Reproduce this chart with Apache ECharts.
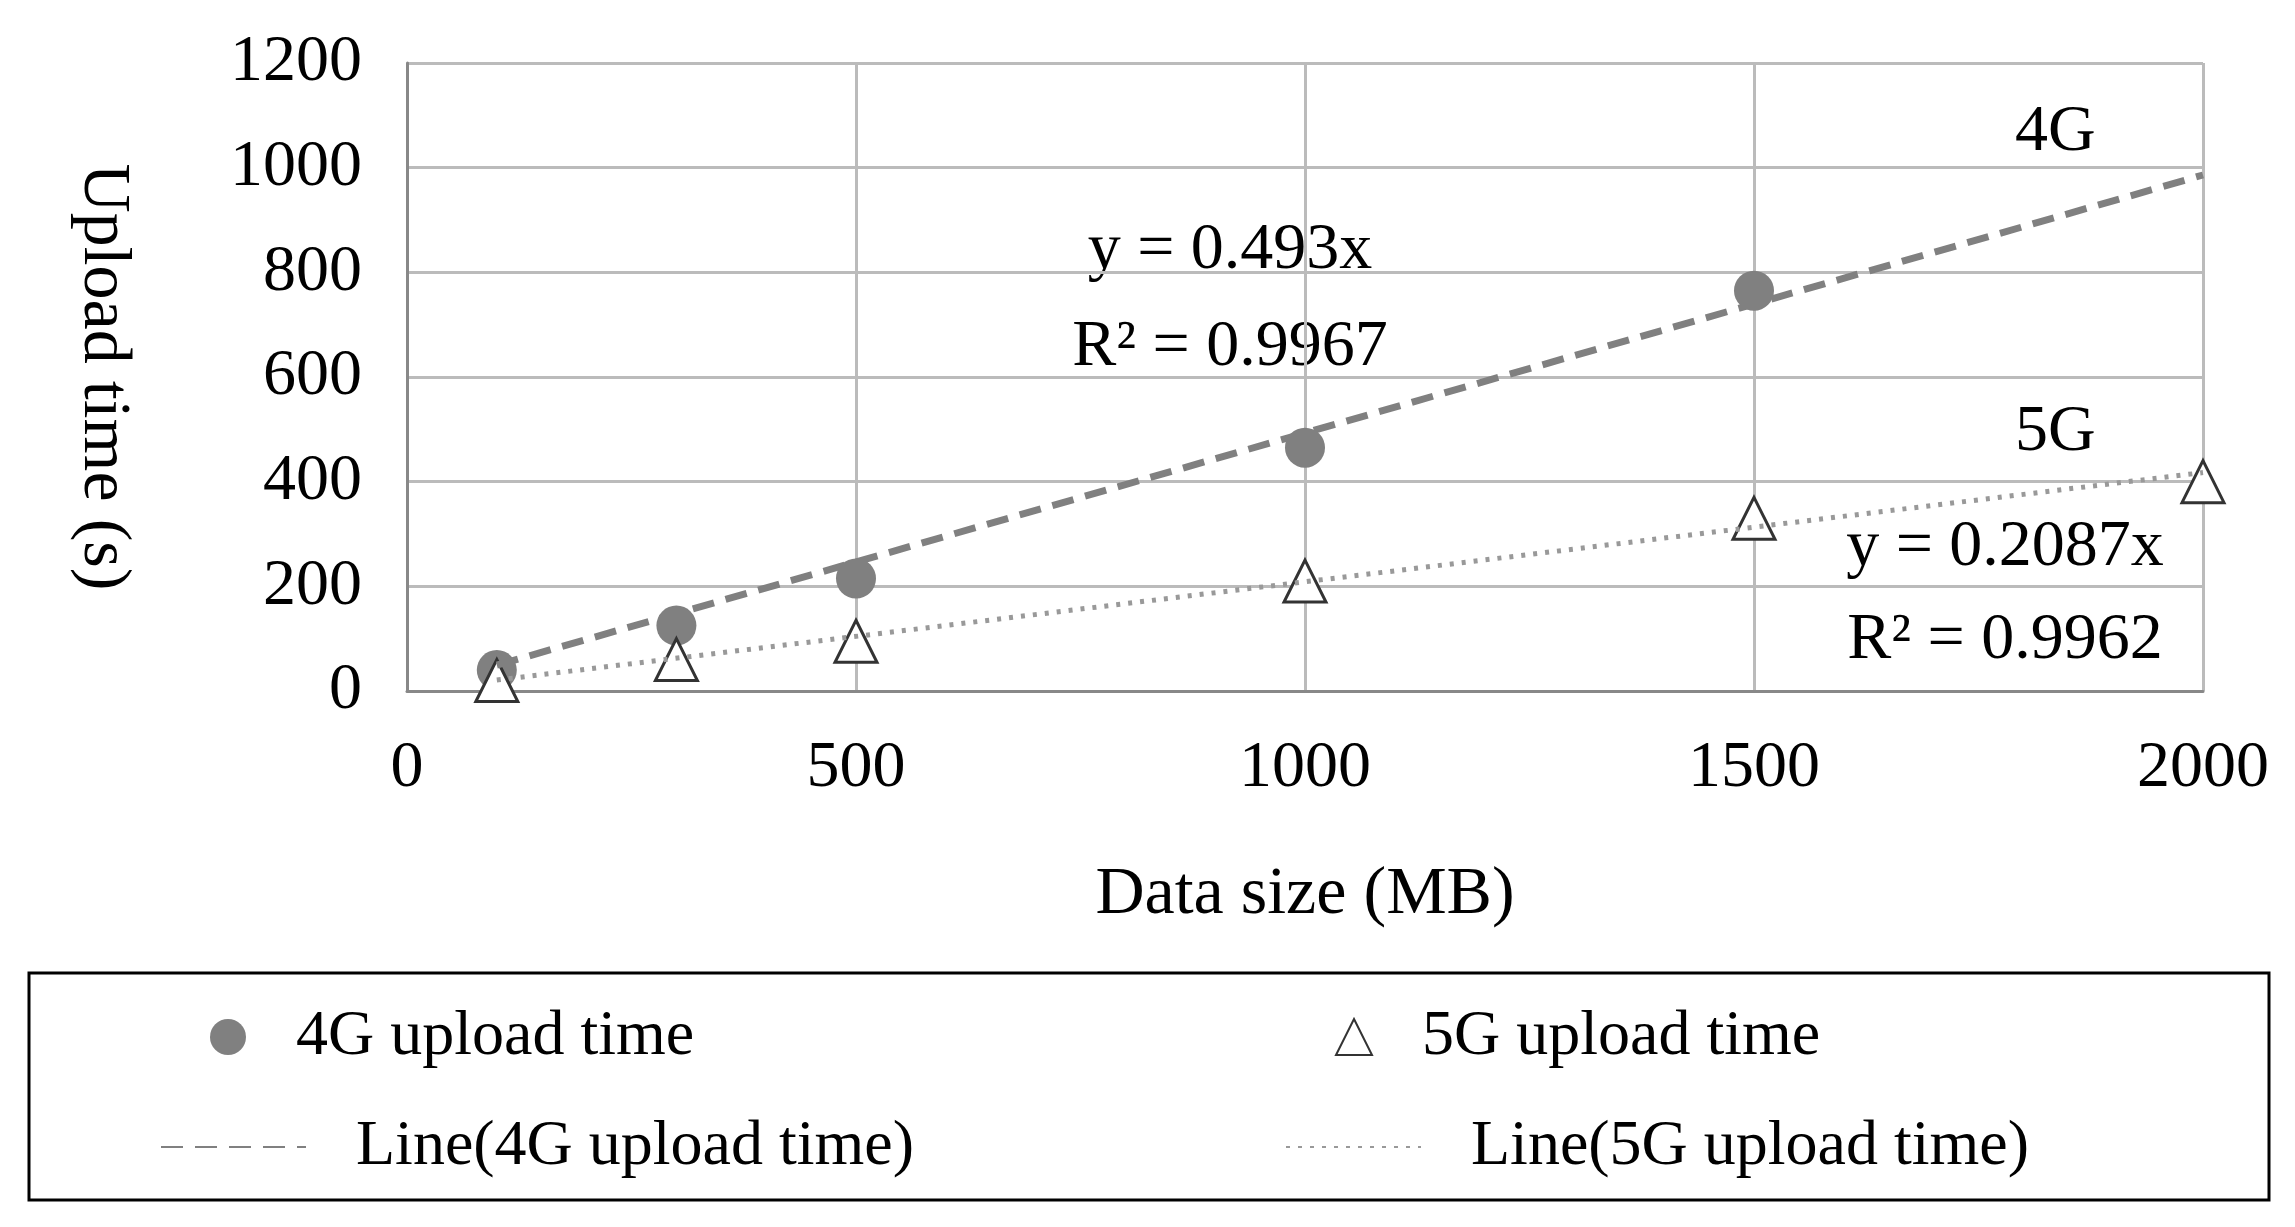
<!DOCTYPE html>
<html><head><meta charset="utf-8">
<script src="https://cdn.jsdelivr.net/npm/echarts@6/dist/echarts.min.js"></script>
<style>html,body{margin:0;background:#fff}#c{width:2295px;height:1227px}</style>
</head><body><div id="c"></div>
<script>
const sizes4G = [100, 300, 500, 1000, 1500];
const times4G = [40, 125, 215, 465, 765];
const sizes5G = [100, 300, 500, 1000, 1500, 2000];
const times5G = [20, 60, 95, 210, 330, 400];
const trend4G = [[100, 49.3], [2000, 986]];
const trend5G = [[100, 20.9], [2000, 417.4]];
const F = 'Liberation Serif';
const chart = echarts.init(document.getElementById('c'));
const zip = (a, b) => a.map((v, i) => [v, b[i]]);
const lt = {fontSize: 64, fontFamily: F, color: '#000', padding: [0, 0, 0, 45]};
const mkLegend = (name, left, top, w, h, extra) => Object.assign({left, top, itemWidth: w, itemHeight: h, textStyle: lt, data: [name], selectedMode: false}, extra || {});
chart.setOption({
  backgroundColor: '#fff',
  textStyle: {fontFamily: F, color: '#000'},
  grid: {left: 407, right: 92, top: 63, bottom: 536},
  xAxis: {type: 'value', min: 0, max: 2000, interval: 500,
    name: 'Data size (MB)', nameLocation: 'middle', nameGap: 170,
    nameTextStyle: {fontSize: 68, fontFamily: F, color: '#000'},
    axisLabel: {fontSize: 66, fontFamily: F, color: '#000', margin: 45, formatter: v => String(v)},
    axisLine: {show: true, lineStyle: {color: '#888', width: 3}}, axisTick: {show: false},
    splitLine: {show: true, lineStyle: {color: '#bbb', width: 3}}},
  yAxis: {type: 'value', min: 0, max: 1200, interval: 200,
    name: 'Upload time (s)', nameLocation: 'middle', nameGap: 270, nameRotate: -90,
    nameTextStyle: {fontSize: 68, fontFamily: F, color: '#000'},
    axisLabel: {fontSize: 66, fontFamily: F, color: '#000', margin: 45, formatter: v => String(v)},
    axisLine: {show: true, lineStyle: {color: '#888', width: 3}}, axisTick: {show: false},
    splitLine: {show: true, lineStyle: {color: '#bbb', width: 3}}},
  legend: [
    mkLegend('4G upload time', 205, 1000, 36, 36),
    mkLegend('5G upload time', 1330, 1000, 36, 36),
    mkLegend('Line(4G upload time)', 155, 1110, 145, 20, {itemStyle: {opacity: 0}}),
    mkLegend('Line(5G upload time)', 1280, 1110, 135, 20, {itemStyle: {opacity: 0}})
  ],
  graphic: [
    {type: 'rect', shape: {x: 29, y: 973, width: 2240, height: 227},
     style: {fill: 'none', stroke: '#000', lineWidth: 3}, z: -1},
    {type: 'text', x: 1995, y: 100, style: {text: '4G', font: '66px "Liberation Serif"', fill: '#000', backgroundColor: '#fff', padding: [0, 20]}},
    {type: 'text', x: 2015, y: 400, style: {text: '5G', font: '66px "Liberation Serif"', fill: '#000'}},
    {type: 'text', x: 1230, y: 218, style: {text: 'y = 0.493x', font: '66px "Liberation Serif"', fill: '#000', align: 'center'}},
    {type: 'text', x: 1230, y: 315, style: {text: 'R² = 0.9967', font: '66px "Liberation Serif"', fill: '#000', align: 'center'}},
    {type: 'text', x: 2005, y: 515, style: {text: 'y = 0.2087x', font: '66px "Liberation Serif"', fill: '#000', align: 'center'}},
    {type: 'text', x: 2005, y: 608, style: {text: 'R² = 0.9962', font: '66px "Liberation Serif"', fill: '#000', align: 'center'}}
  ],
  series: [
    {name: 'Line(4G upload time)', type: 'line', data: trend4G, symbol: 'none',
     lineStyle: {color: '#808080', width: 7, type: [22, 12]}, itemStyle: {color: '#808080'}},
    {name: 'Line(5G upload time)', type: 'line', data: trend5G, symbol: 'none',
     lineStyle: {color: '#999', width: 5, type: [4, 8]}, itemStyle: {color: '#999'}},
    {name: '4G upload time', type: 'scatter', data: zip(sizes4G, times4G), symbol: 'circle', symbolSize: 40,
     itemStyle: {color: '#808080', opacity: 1}},
    {name: '5G upload time', type: 'scatter', data: zip(sizes5G, times5G), symbol: 'triangle', symbolSize: 42,
     itemStyle: {color: '#fff', borderColor: '#333', borderWidth: 3, opacity: 1}}
  ]
});
</script></body></html>
